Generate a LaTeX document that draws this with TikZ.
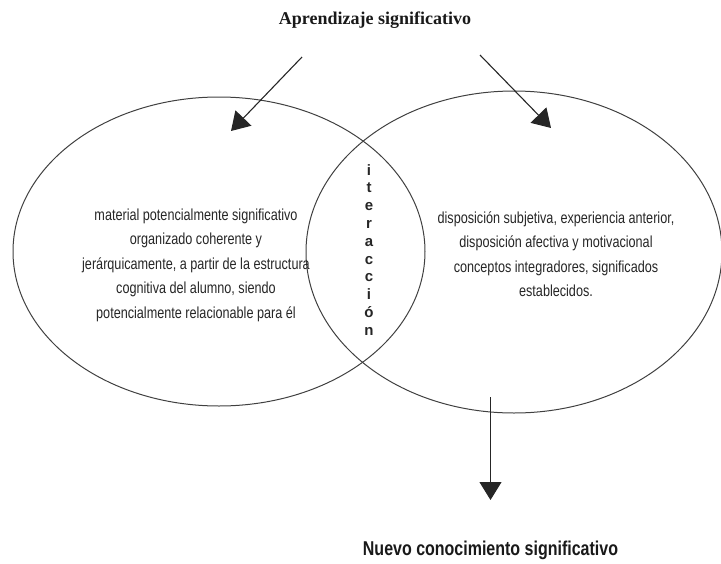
\documentclass[tikz,border=0pt]{standalone}
\usepackage{fontspec}
\setmainfont{Liberation Serif}
\newfontfamily\narrowfont[FakeStretch=0.79]{Liberation Sans}
\newfontfamily\narrowbold[FakeStretch=0.8]{Liberation Sans}
\newfontfamily\vertfont{Liberation Sans}
\usetikzlibrary{arrows.meta,shapes.geometric}
\begin{document}
\begin{tikzpicture}[x=1pt,y=-1pt,
  ring/.style={draw=black!75, line width=1pt},
  bigarrow/.style={draw=black!85, line width=1.1pt, -{Triangle[length=18pt,width=22pt]}},
  body/.style={font=\narrowfont\fontsize{16}{24.5}\selectfont, text=black!85, align=center, inner sep=0pt},
  vletter/.style={font=\vertfont\bfseries\fontsize{15}{15}\selectfont, text=black!85, anchor=base, inner sep=0pt},
  titlestyle/.style={font=\bfseries\fontsize{18}{20}\selectfont, text=black!90, inner sep=0pt},
  bottomstyle/.style={font=\narrowbold\bfseries\fontsize{20}{22}\selectfont, text=black!90, inner sep=0pt}]
\useasboundingbox (0,0) rectangle (721,563);
% ellipses
\node[ring, ellipse, minimum width=412pt, minimum height=309pt, inner sep=0pt] (left) at (219,251.5) {};
\node[ring, ellipse, minimum width=416pt, minimum height=322pt, inner sep=0pt] (right) at (514,252) {};
% title and bottom text
\node[titlestyle] (title) at (375,20) {Aprendizaje significativo};
\node[bottomstyle] (result) at (490.5,550) {Nuevo conocimiento significativo};
% arrows
\coordinate (a1s) at (302,57);
\coordinate (a1e) at (231,131);
\coordinate (a2s) at (480,55);
\coordinate (a2e) at (551,128);
\coordinate (a3s) at (490.5,397);
\coordinate (a3e) at (490.5,500);
\draw[bigarrow] (a1s) -- (a1e);
\draw[bigarrow] (a2s) -- (a2e);
\draw[bigarrow] (a3s) -- (a3e);
% body texts
\node[body] (ltext) at (196,265) {material potencialmente significativo\\organizado coherente y\\jerárquicamente, a partir de la estructura\\cognitiva del alumno, siendo\\potencialmente relacionable para él};
\node[body] (rtext) at (556,254) {disposición subjetiva, experiencia anterior,\\disposición afectiva y motivacional\\conceptos integradores, significados\\establecidos.};
% vertical word
\foreach \ch [count=\k] in {i,t,e,r,a,c,c,i,ó,n}{
  \node[vletter] (v\k) at (369,{175+(\k-1)*17.8}) {\ch};
}
\end{tikzpicture}
\end{document}
